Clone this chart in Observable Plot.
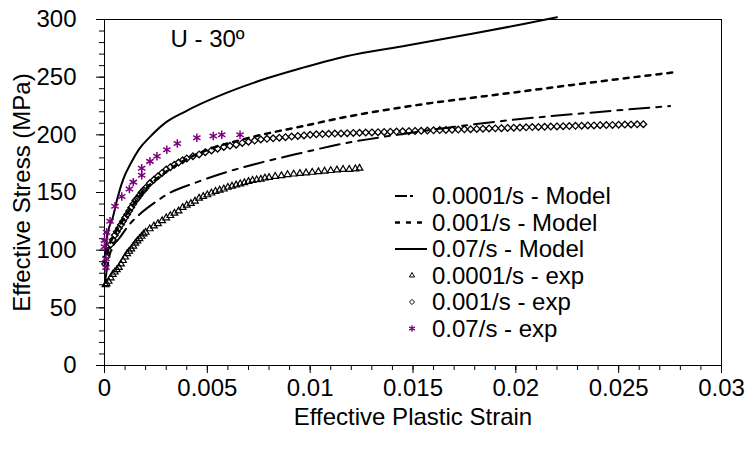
<!DOCTYPE html>
<html><head><meta charset="utf-8">
<script src="https://cdn.jsdelivr.net/npm/d3@7"></script>
<script src="https://cdn.jsdelivr.net/npm/@observablehq/plot@0.6"></script>
<style>body{margin:0;background:#fff;font-family:"Liberation Sans",Arial,sans-serif}</style>
</head><body><div id="chart"></div>
<script>
// ---- data (strain, stress MPa) ----
const xTickValues = [0, 0.005, 0.01, 0.015, 0.02, 0.025, 0.03];
const xTickLabels = ["0", "0.005", "0.01", "0.015", "0.02", "0.025", "0.03"];
const yTickValues = [0, 50, 100, 150, 200, 250, 300];
const yTickLabels = ["0", "50", "100", "150", "200", "250", "300"];

const model0001 = [[0.00002,72],[0.0003,99],[0.00075,111],[0.0012,122],[0.0017,131],[0.0025,142],[0.003,148],[0.0045,159],[0.006,168],[0.0074,175],[0.0095,184],[0.0115,192],[0.015,202],[0.0196,212.5],[0.0235,219],[0.0275,225]];
const model001 = [[0.00002,88],[0.0002,102],[0.0005,114],[0.001,129],[0.0015,142],[0.002,153],[0.003,168],[0.004,179],[0.005,187],[0.0065,195],[0.008,201.5],[0.0095,207],[0.0116,215],[0.0147,224.5],[0.0196,236],[0.0235,245],[0.0276,254]];
const model07 = [[0.00002,92],[0.0001,108],[0.0002,118],[0.0004,128],[0.0006,143],[0.0009,161],[0.0013,176],[0.0017,188],[0.0022,198],[0.003,211],[0.0039,220],[0.0047,227],[0.0063,239],[0.0079,249],[0.0095,257.5],[0.0117,268],[0.0147,277.5],[0.018,288],[0.0205,296.5],[0.022,302]];

const exp0001 = [[0.00005,70],[0.0001,71],[0.0002,73],[0.0003,76],[0.0004,79],[0.0005,81],[0.0006,83],[0.0007,85],[0.0008,88],[0.0009,91],[0.001,94],[0.0011,97],[0.0012,99],[0.0013,101],[0.0014,103.5],[0.0015,106],[0.0016,108],[0.0017,110],[0.0018,112],[0.0019,114],[0.002,115.5],[0.0022,118.5],[0.0024,121],[0.0026,123],[0.0028,125.5],[0.003,128],[0.0032,130],[0.0034,132],[0.0036,134],[0.0038,137],[0.004,139],[0.0042,140.5],[0.0044,142.5],[0.0046,145],[0.0048,146.5],[0.005,148],[0.0052,149.5],[0.0054,151],[0.0056,152],[0.0058,153],[0.006,154.5],[0.0062,155.5],[0.0064,156.5],[0.0066,157.5],[0.0068,158.5],[0.007,159.5],[0.0072,160.5],[0.0074,161],[0.0076,161.5],[0.0078,162.5],[0.008,163],[0.0083,164],[0.0086,164.5],[0.0089,165.5],[0.0092,166],[0.0095,166.5],[0.0098,167],[0.0101,167.5],[0.0104,168],[0.0107,168.5],[0.011,169],[0.0113,169.5],[0.0116,170],[0.0119,170],[0.0122,170.5],[0.0124,171]];
const exp001 = [[0.00003,88],[0.0001,94],[0.0002,100],[0.0003,105],[0.0004,109],[0.0005,113],[0.0006,116],[0.0007,119],[0.0008,122],[0.0009,125],[0.001,128],[0.0011,131],[0.0012,134],[0.0013,137],[0.0014,140],[0.0015,143],[0.0016,145],[0.0017,147.5],[0.0018,150],[0.0019,152],[0.002,154],[0.0022,158],[0.0024,161],[0.0026,164],[0.0028,167],[0.003,170],[0.0032,172],[0.0034,174],[0.0036,176],[0.0038,178],[0.004,179.5],[0.0043,181.5],[0.0046,183],[0.0049,185],[0.0052,186.5],[0.0055,188],[0.0058,189.5],[0.0061,190.5],[0.0064,191.5],[0.0067,193],[0.007,194],[0.0073,195],[0.0076,196],[0.0079,196.5],[0.0082,197],[0.0085,197.5],[0.0088,198],[0.0091,198.5],[0.0094,199],[0.0097,199.5],[0.01,200],[0.0103,200.5],[0.0106,200.7],[0.0109,200.9],[0.0112,201.1],[0.0115,201.2],[0.0118,201.4],[0.0121,201.6],[0.0124,201.8],[0.0127,202],[0.013,202.1],[0.0133,202.3],[0.0136,202.5],[0.0139,202.7],[0.0142,202.8],[0.0145,203],[0.0148,203.2],[0.0151,203.4],[0.0154,203.5],[0.0157,203.7],[0.016,203.9],[0.0163,204.1],[0.0166,204.2],[0.0169,204.4],[0.0172,204.6],[0.0175,204.8],[0.0178,204.9],[0.0181,205.1],[0.0184,205.3],[0.0187,205.5],[0.019,205.6],[0.0193,205.8],[0.0196,206],[0.0199,206.2],[0.0202,206.3],[0.0205,206.5],[0.0208,206.7],[0.0211,206.8],[0.0214,207],[0.0217,207.2],[0.022,207.3],[0.0223,207.5],[0.0226,207.6],[0.0229,207.8],[0.0232,207.9],[0.0235,208.1],[0.0238,208.2],[0.0241,208.4],[0.0244,208.5],[0.0247,208.6],[0.025,208.8],[0.0253,208.9],[0.0256,209],[0.0259,209.1],[0.0262,209.2]];
const exp07 = [[0,103],[0,108.5],[0.00007,85],[0.00007,92.5],[0.0001,115.5],[0.00027,125],[0.00051,138],[0.00084,146.5],[0.00121,153],[0.0014,159],[0.00181,165],[0.00181,171],[0.00221,177],[0.00255,181.5],[0.00303,187],[0.00354,192.5],[0.00449,197.5],[0.00529,199],[0.0057,200],[0.00659,200]];

const legendLabels = ["0.0001/s - Model", "0.001/s - Model", "0.07/s - Model", "0.0001/s - exp", "0.001/s - exp", "0.07/s - exp"];
const titleText = "U - 30º";

// ---- styles ----
const FONT = "'Liberation Sans', Arial, sans-serif";
const purple = "#800080";
const dashDot = "20,7,5,7";
const dotted = "5,6";
const rTri = 3.2, rDia = 3, rStar = 4;

const chart = Plot.plot({
  width: 749, height: 453,
  marginLeft: 104, marginRight: 28, marginTop: 19, marginBottom: 88,
  x: {domain: [0, 0.03]},
  y: {domain: [0, 300]},
  style: {fontFamily: FONT, fontSize: "24px", color: "#000", background: "#fff", overflow: "visible"},
  marks: [
    Plot.axisX({ticks: d3.range(0, 0.0305, 0.001), tickSize: 5, tickFormat: () => "", label: null}),
    Plot.axisX({ticks: xTickValues, tickSize: 8, tickPadding: 5,
      tickFormat: d => xTickLabels[xTickValues.indexOf(d)],
      label: "Effective Plastic Strain", labelAnchor: "center", labelOffset: 59, labelArrow: "none"}),
    Plot.axisY({ticks: d3.range(0, 301, 10), tickSize: 5, tickFormat: () => "", label: null}),
    Plot.axisY({ticks: yTickValues, tickSize: 8, tickPadding: 20,
      tickFormat: d => yTickLabels[yTickValues.indexOf(d)],
      label: "Effective Stress (MPa)", labelAnchor: "center", labelOffset: 92, labelArrow: "none"}),
    Plot.frame({stroke: "#000", strokeWidth: 1}),
    Plot.line(model0001, {x: d => d[0], y: d => d[1], stroke: "#000", strokeWidth: 2, strokeDasharray: dashDot, curve: "monotone-x"}),
    Plot.line(model001, {x: d => d[0], y: d => d[1], stroke: "#000", strokeWidth: 2.5, strokeDasharray: dotted, curve: "monotone-x"}),
    Plot.line(model07, {x: d => d[0], y: d => d[1], stroke: "#000", strokeWidth: 2, curve: "monotone-x"}),
    Plot.dot(exp0001, {x: d => d[0], y: d => d[1], symbol: "triangle2", r: rTri, stroke: "#000", strokeWidth: 1.2, fill: "none"}),
    Plot.dot(exp001, {x: d => d[0], y: d => d[1], symbol: "diamond2", r: rDia, stroke: "#000", strokeWidth: 1.3, fill: "none"}),
    Plot.dot(exp07, {x: d => d[0], y: d => d[1], symbol: "asterisk", r: rStar, stroke: purple, strokeWidth: 1.5}),
    Plot.text([titleText], {text: d => d, frameAnchor: "top-left", dx: 66, dy: 20, textAnchor: "start", lineAnchor: "middle", fontSize: 24})
  ]
});
document.getElementById("chart").appendChild(chart);

// ---- legend (inside plot area) ----
const svg = d3.select(chart);
const lg = svg.append("g").attr("font-family", FONT).attr("font-size", 24).attr("fill", "#000").attr("text-anchor", "start");
const rowY0 = 196, rowStep = 26.5, textX = 432, sx0 = 395, sx1 = 427, markX = 412;
legendLabels.forEach((lab, i) => {
  const y = rowY0 + i * rowStep;
  if (i === 0) lg.append("line").attr("x1", sx0).attr("x2", sx1 - 14).attr("y1", y).attr("y2", y).attr("stroke", "#000").attr("stroke-width", 2).attr("stroke-dasharray", "12,3,3,20");
  if (i === 1) lg.append("line").attr("x1", sx0).attr("x2", sx1).attr("y1", y).attr("y2", y).attr("stroke", "#000").attr("stroke-width", 2.5).attr("stroke-dasharray", "5,6");
  if (i === 2) lg.append("line").attr("x1", sx0).attr("x2", sx1).attr("y1", y).attr("y2", y).attr("stroke", "#000").attr("stroke-width", 2);
  if (i === 3) lg.append("path").attr("d", d3.symbol(d3.symbolTriangle2, Math.PI * rTri * rTri * 0.6)()).attr("transform", `translate(${markX},${y})`).attr("fill", "none").attr("stroke", "#000");
  if (i === 4) lg.append("path").attr("d", d3.symbol(d3.symbolDiamond2, Math.PI * rDia * rDia * 0.6)()).attr("transform", `translate(${markX},${y})`).attr("fill", "none").attr("stroke", "#000");
  if (i === 5) lg.append("path").attr("d", d3.symbol(d3.symbolAsterisk, Math.PI * rStar * rStar * 0.6)()).attr("transform", `translate(${markX},${y})`).attr("fill", "none").attr("stroke", purple).attr("stroke-width", 1.3);
  lg.append("text").attr("x", textX).attr("y", y).attr("dy", "0.35em").attr("text-anchor", "start").text(lab);
});
</script></body></html>
